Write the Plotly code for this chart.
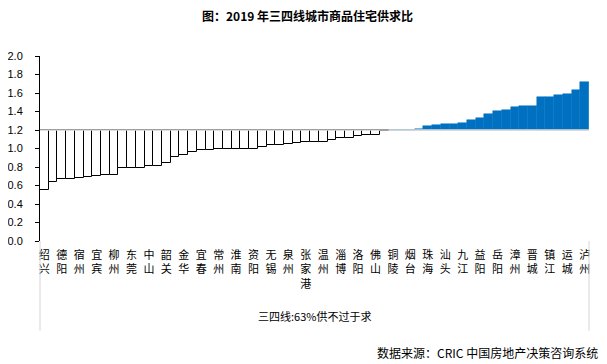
import plotly.graph_objects as go

# ---- data ----
labels = ["绍兴", "德阳", "宿州", "宜宾", "柳州", "东莞", "中山", "韶关", "金华", "宜春",
          "常州", "淮南", "资阳", "无锡", "泉州", "张家港", "温州", "淄博", "洛阳", "佛山",
          "铜陵", "烟台", "珠海", "汕头", "九江", "益阳", "岳阳", "漳州", "晋城", "镇江",
          "运城", "泸州"]
ratios = [0.550, 0.635, 0.675, 0.675, 0.685, 0.697, 0.708, 0.717, 0.717, 0.793,
          0.793, 0.793, 0.813, 0.813, 0.846, 0.910, 0.935, 0.963, 0.989, 0.989,
          0.998, 0.998, 0.998, 0.998, 0.998, 1.021, 1.035, 1.035, 1.046, 1.062,
          1.075, 1.075, 1.075, 1.090, 1.110, 1.115, 1.130, 1.143, 1.143, 1.185,
          1.200, 1.200, 1.200, 1.212, 1.245, 1.257, 1.265, 1.265, 1.278, 1.308,
          1.330, 1.373, 1.407, 1.416, 1.449, 1.460, 1.460, 1.556, 1.556, 1.577,
          1.588, 1.631, 1.717]
BASELINE = 1.2
title_text = "图：2019 年三四线城市商品住宅供求比"
group_text = "三四线:63%供不过于求"
source_text = "数据来源：CRIC 中国房地产决策咨询系统"

idx = list(range(len(ratios)))
tick_pos = idx[::2]
tick_text = ["<br>".join(list(s)) for s in labels]

below_x = [i for i in idx if ratios[i] < BASELINE]
below_y = [ratios[i] - BASELINE for i in below_x]
above_x = [i for i in idx if ratios[i] >= BASELINE]
above_y = [ratios[i] - BASELINE for i in above_x]

cjk = "Noto Sans CJK SC"

fig = go.Figure()
fig.add_trace(go.Bar(x=below_x, y=below_y, base=BASELINE,
                     marker=dict(color="white", line=dict(color="black", width=1)),
                     hoverinfo="skip"))
fig.add_trace(go.Bar(x=above_x, y=above_y, base=BASELINE,
                     marker=dict(color="#0070C0", line=dict(color="#0070C0", width=0.5)),
                     hoverinfo="skip"))

# baseline line at 1.2
fig.add_shape(type="line", xref="paper", yref="y", x0=0, x1=1, y0=BASELINE, y1=BASELINE,
              line=dict(color="#d4d4d4", width=1.5), layer="above")
# bracket for category group
for xp in (0, 1):
    fig.add_shape(type="line", xref="paper", yref="paper", x0=xp, x1=xp, y0=0, y1=-0.485,
                  line=dict(color="#d4d4d4", width=1))

fig.add_annotation(text=group_text, xref="paper", yref="paper", x=0.5, y=-0.405,
                   showarrow=False, font=dict(family=cjk, size=11, color="black"),
                   xanchor="center", yanchor="middle")
fig.add_annotation(text=source_text, xref="paper", yref="paper", x=1.02, y=-0.605,
                   showarrow=False, font=dict(family=cjk, size=12, color="black"),
                   xanchor="right", yanchor="middle")

# the page body adds an 8px margin, so the figure is 8px smaller and shifted
fig.update_layout(
    width=599, height=356,
    margin=dict(l=32, r=18, t=48, b=123, autoexpand=False),
    paper_bgcolor="white", plot_bgcolor="white",
    showlegend=False, bargap=0,
    title=dict(text="<b>" + title_text + "</b>", x=0.5, xanchor="center",
               y=1 - 9 / 356, yanchor="middle",
               font=dict(family=cjk, size=12, color="black")),
    xaxis=dict(range=[-0.5, len(ratios) - 0.5], tickmode="array", tickvals=tick_pos,
               ticktext=tick_text, tickangle=0, showline=False, showgrid=False,
               zeroline=False, ticks="", ticklabelstandoff=6, automargin=False,
               tickfont=dict(family=cjk, size=11, color="black")),
    yaxis=dict(range=[0, 2.0], dtick=0.2, tick0=0, tickformat=".1f", showline=True,
               linecolor="black", linewidth=1, ticks="outside", ticklen=4,
               tickcolor="black", showgrid=False, zeroline=False,
               ticklabelstandoff=10, automargin=False,
               tickfont=dict(family="Liberation Sans", size=11, color="black")),
)

fig.write_html("out.html")
